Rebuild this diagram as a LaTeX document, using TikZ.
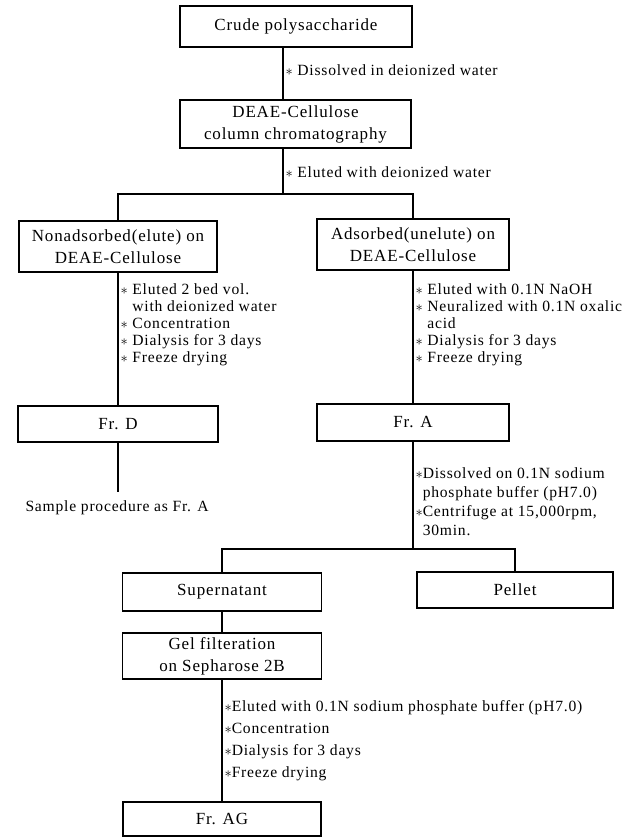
\documentclass[tikz,border=0pt]{standalone}
\usepackage{fontspec}
\setmainfont{Liberation Serif}[LetterSpace=5.0]
\usepackage{tikz}
\tikzset{ step_box/.style = {rectangle, draw, line width=1.1pt, align=center, inner sep=0pt, font=\fontsize{17}{22}\selectfont} }
\tikzset{ note_txt/.style = {anchor=west, align=left, inner sep=0pt, font=\fontsize{15.6}{17}\selectfont} }
\newcommand{\stmark}{$\ast$}

\begin{document}
\begin{tikzpicture}[x=1pt,y=-1pt,line width=1.1pt]
        \useasboundingbox (0,0) rectangle (622,837);
        % boxes
        \node[step_box, minimum width=232, minimum height=41] (crude) at (296,26.5) {Crude polysaccharide};
        \node[step_box, minimum width=231, minimum height=48] (deae) at (295.5,124) {DEAE-Cellulose\\column chromatography};
        \node[step_box, minimum width=198, minimum height=51] (nonads) at (118,246.5) {Nonadsorbed(elute) on\\DEAE-Cellulose};
        \node[step_box, minimum width=192, minimum height=51] (ads) at (413,244.5) {Adsorbed(unelute) on\\DEAE-Cellulose};
        \node[step_box, minimum width=200, minimum height=36] (frd) at (118,424) {Fr. D};
        \node[step_box, minimum width=192, minimum height=37] (fra) at (413,422.5) {Fr. A};
        \node[step_box, minimum width=199, minimum height=38] (sup) at (222,592) {Supernatant};
        \node[step_box, minimum width=196, minimum height=36] (pel) at (515,590) {Pellet};
        \node[step_box, minimum width=199, minimum height=46] (gel) at (222,656) {Gel filteration\\on Sepharose 2B};
        \node[step_box, minimum width=198, minimum height=34] (frag) at (222,819) {Fr. AG};
        % split points
        \coordinate (s1) at (283,194);
        \coordinate (s2) at (413,549);
        \coordinate (dend) at (118,492);
        % connectors
        \draw (s1 |- crude.south) -- (s1 |- deae.north);
        \draw (s1 |- deae.south) -- (s1);
        \draw (nonads.north) |- (s1) -| (ads.north);
        \draw (nonads.south) -- (frd.north);
        \draw (frd.south) -- (dend);
        \draw (ads.south) -- (fra.north);
        \draw (fra.south) -- (s2);
        \draw (sup.north) |- (s2) -| (pel.north);
        \draw (sup.south) -- (gel.north);
        \draw (gel.south) -- (frag.north);
        % notes
        \node[note_txt] (dis) at (285,70) {\stmark{} Dissolved in deionized water};
        \node[note_txt] (elu) at (285,172) {\stmark{} Eluted with deionized water};
        \node[note_txt] (dnote) at (120,325) {\stmark{} Eluted 2 bed vol.\\\phantom{\stmark{} }with deionized water\\\stmark{} Concentration\\\stmark{} Dialysis for 3 days\\\stmark{} Freeze drying};
        \node[note_txt] (anote) at (415,325) {\stmark{} Eluted with 0.1N NaOH\\\stmark{} Neuralized with 0.1N oxalic\\\phantom{\stmark{} }acid\\\stmark{} Dialysis for 3 days\\\stmark{} Freeze drying};
        \node[note_txt, font=\fontsize{15.6}{19}\selectfont] (cnote) at (415,502) {\stmark Dissolved on 0.1N sodium\\\phantom{\stmark}phosphate buffer (pH7.0)\\\stmark Centrifuge at 15,000rpm,\\\phantom{\stmark}30min.};
        \node[note_txt] (samp) at (25,508) {Sample procedure as Fr. A};
        \node[note_txt, font=\fontsize{15.6}{22}\selectfont] (gnote) at (224,741) {\stmark Eluted with 0.1N sodium phosphate buffer (pH7.0)\\\stmark Concentration\\\stmark Dialysis for 3 days\\\stmark Freeze drying};
\end{tikzpicture}
\end{document}
